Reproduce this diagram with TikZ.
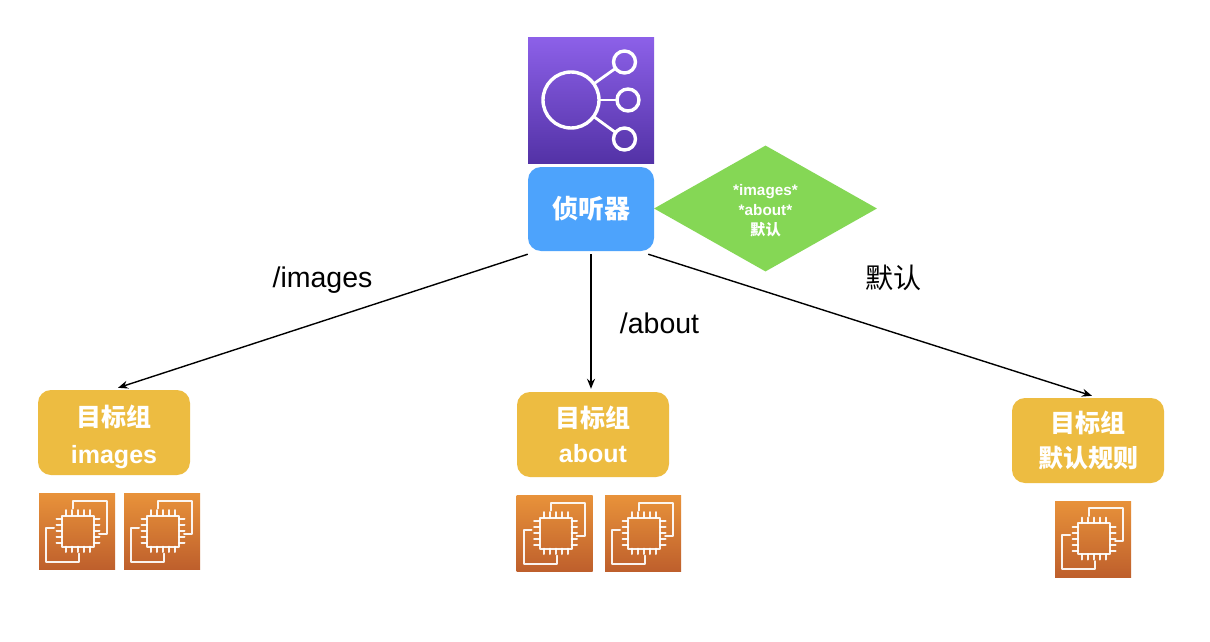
\documentclass[tikz,border=0pt]{standalone}
\usepackage{fontspec}
\setmainfont{Liberation Sans}
\newfontfamily\cjk{Noto Sans CJK SC}
\usetikzlibrary{arrows.meta,shapes.geometric}
\definecolor{blueBox}{HTML}{4DA3FC}
\definecolor{yellowBox}{HTML}{EDBC41}
\definecolor{greenBox}{HTML}{85D755}
\definecolor{purpleTop}{HTML}{8C60E8}
\definecolor{purpleBot}{HTML}{5332A6}
\definecolor{orangeTop}{HTML}{E8923A}
\definecolor{orangeBot}{HTML}{BE5F2C}
\tikzset{
  x=1pt,y=-1pt,
  groupbox/.style={rectangle,rounded corners=13pt,fill=yellowBox,minimum width=152pt,minimum height=85pt,inner sep=0pt,text=white,align=center,font=\fontsize{25}{35}\selectfont\bfseries},
  listenerbox/.style={rectangle,rounded corners=13pt,fill=blueBox,minimum width=126pt,minimum height=84pt,inner sep=0pt,text=white,font=\fontsize{26}{30}\selectfont\cjk\bfseries},
  rulediamond/.style={diamond,fill=greenBox,minimum width=223pt,minimum height=126pt,inner sep=0pt,aspect=1.77,text=white,align=center,font=\fontsize{15.3}{20}\selectfont\bfseries},
  pathlabel/.style={inner sep=0pt,text=black,font=\fontsize{28.5}{30}\selectfont},
  hubring/.style={circle,draw=white,line width=3.4pt,inner sep=0pt,outer sep=0pt},
  link/.style={draw=black,line width=1.4pt,-{Stealth[length=10pt,width=8pt]}},
  iconline/.style={draw=white,line width=2pt,line cap=round,line join=round,opacity=.92},
  ec2/.pic={
    \shade[top color=orangeTop,bottom color=orangeBot] (0,0) rectangle (76,76);
    \draw[iconline] (34,15) -- (34,7) -- (68,7) -- (68,40) -- (60,40);
    \draw[iconline] (15,34) -- (7,34) -- (7,68) -- (40,68) -- (40,60);
    \draw[iconline] (23,22) rectangle (55,53);
    \foreach \t in {0,1,2,3,4}{
      \draw[iconline] ({27+\t*6},16.5) -- ({27+\t*6},22);
      \draw[iconline] ({27+\t*6},53) -- ({27+\t*6},58.5);
      \draw[iconline] (17.5,{25.5+\t*6}) -- (23,{25.5+\t*6});
      \draw[iconline] (55,{25.5+\t*6}) -- (60.5,{25.5+\t*6});
    }
  }
}
\begin{document}
\begin{tikzpicture}
\useasboundingbox (0,0) rectangle (1210,642);
\fill[white] (0,0) rectangle (1210,642);
% load balancer icon
\node[rectangle,minimum width=126pt,minimum height=125pt,inner sep=0pt,top color=purpleTop,bottom color=purpleBot] (lbicon) at (591,100.5) {};
\node[hubring,minimum size=56pt] (hub) at (571,100) {};
\node[hubring,minimum size=22pt] (s1) at (624.5,62) {};
\node[hubring,minimum size=22pt] (s2) at (628,100) {};
\node[hubring,minimum size=22pt] (s3) at (624.5,139) {};
\draw[white,line width=2.8pt] (hub) -- (s1);
\draw[white,line width=2.8pt] (hub) -- (s2);
\draw[white,line width=2.8pt] (hub) -- (s3);
% listener and rule
\node[rulediamond] (rules) at (765.5,208.5) {\rule{0pt}{16pt}*images*\\*about*\\{\cjk 默认}};
\node[listenerbox] (listener) at (591,209) {侦听器};
% target groups
\node[groupbox] (tgimages) at (114,432.5) {\rule{0pt}{31pt}{\cjk 目标组}\\[2pt]images};
\node[groupbox] (tgabout) at (593,434.5) {\raisebox{-2pt}{\cjk 目标组}\\[2pt]about};
\node[groupbox] (tgdefault) at (1088,440.5) {\raisebox{-2pt}{\cjk 目标组}\\[2pt]{\cjk 默认规则}};
% instances
\pic at (39,493.5) {ec2};
\pic at (124,493.5) {ec2};
\pic at (516.5,495.5) {ec2};
\pic at (605,495.5) {ec2};
\pic at (1055,501) {ec2};
% connectors
\draw[link] ([yshift=-3pt]listener.south west) -- ([xshift=4pt,yshift=2pt]tgimages.north);
\draw[link] ([yshift=-3pt]listener.south) -- ([xshift=-2pt,yshift=3pt]tgabout.north);
\draw[link] ([xshift=-6pt,yshift=-3pt]listener.south east) -- ([xshift=4pt,yshift=2pt]tgdefault.north);
% labels
\node[pathlabel] (limages) at (322.5,280) {/images};
\node[pathlabel] (labout) at (659.5,323) {/about};
\node[pathlabel,font=\fontsize{28}{30}\selectfont\cjk] (ldefault) at (893,278) {默认};
\end{tikzpicture}
\end{document}
